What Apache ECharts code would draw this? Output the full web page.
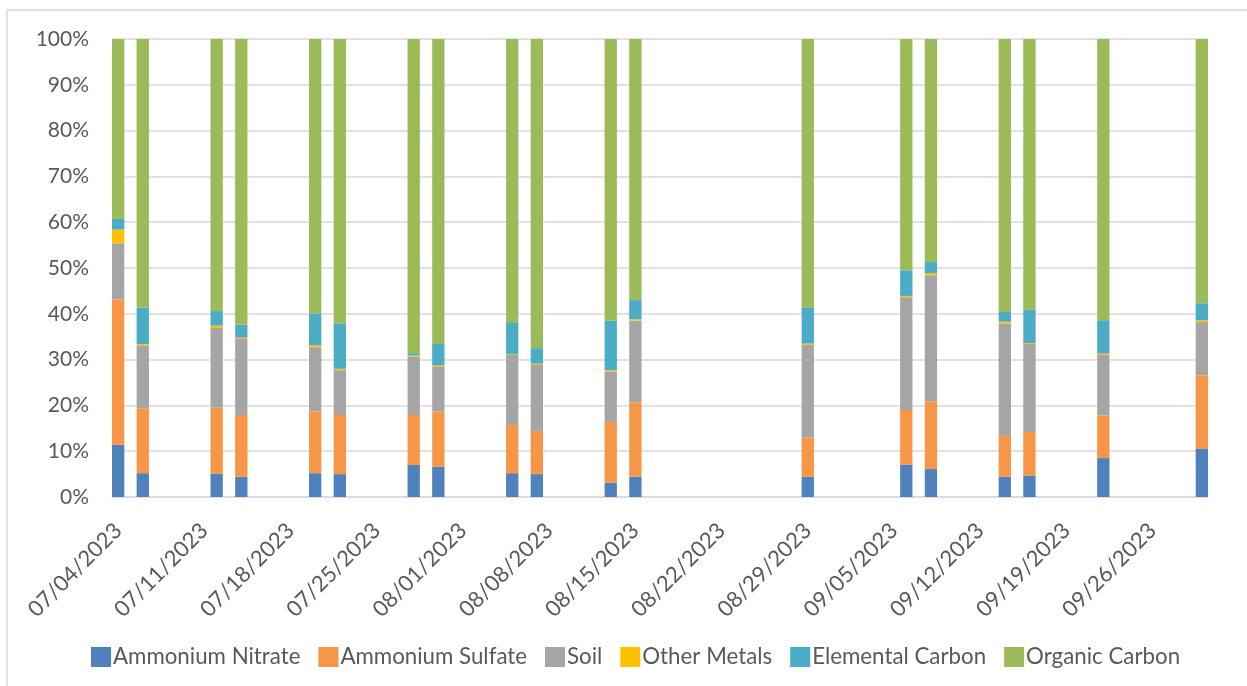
<!DOCTYPE html>
<html>
	<head>
		<meta charset="utf-8">
		<title>PM2.5 composition</title>
		<script src="https://cdn.jsdelivr.net/npm/echarts@6/dist/echarts.min.js"></script>
		<style>
			html, body { margin: 0; padding: 0; background: #fff; }
			#chart { width: 1247px; height: 686px; }
		</style>
	</head>
	<body>
		<div id="chart"></div>
		<script type="text/javascript">
			// sample days (the axis is a date axis running 07/04 .. 09/30)
			var sampleDates = ['07/04/2023','07/06/2023','07/12/2023','07/14/2023','07/20/2023','07/22/2023',
				'07/28/2023','07/30/2023','08/05/2023','08/07/2023','08/13/2023','08/15/2023','08/29/2023',
				'09/06/2023','09/08/2023','09/14/2023','09/16/2023','09/22/2023','09/30/2023'];

			// percent of total for each sample
			var ammoniumNitrate = [11.4, 5.2, 5.1, 4.4, 5.2, 5.0, 7.0, 6.6, 5.2, 5.0, 3.1, 4.4, 4.4, 7.1, 6.1, 4.4, 4.7, 8.5, 10.6];
			var ammoniumSulfate = [31.8, 14.2, 14.4, 13.5, 13.5, 12.9, 10.9, 12.1, 10.5, 9.4, 13.3, 16.3, 8.6, 11.9, 14.8, 8.9, 9.5, 9.3, 16.0];
			var soil            = [12.2, 13.7, 17.4, 16.6, 14.0, 9.8, 12.7, 9.7, 15.3, 14.4, 11.0, 17.8, 20.2, 24.6, 27.5, 24.6, 19.2, 13.2, 11.6];
			var otherMetals     = [3.0, 0.3, 0.5, 0.3, 0.4, 0.3, 0.3, 0.3, 0.2, 0.3, 0.3, 0.3, 0.3, 0.3, 0.5, 0.4, 0.2, 0.3, 0.4];
			var elementalCarbon = [2.3, 7.9, 3.2, 2.8, 7.0, 9.9, 0.5, 4.7, 6.8, 3.4, 10.8, 4.2, 7.9, 5.6, 2.4, 2.1, 7.3, 7.3, 3.7];
			var organicCarbon   = [39.3, 58.7, 59.4, 62.4, 59.9, 62.1, 68.6, 66.6, 62.0, 67.5, 61.5, 57.0, 58.6, 50.5, 48.7, 59.6, 59.1, 61.4, 57.7];

			var yTicks = [0, 10, 20, 30, 40, 50, 60, 70, 80, 90, 100];

			var seriesNames = ['Ammonium Nitrate','Ammonium Sulfate','Soil','Other Metals','Elemental Carbon','Organic Carbon'];
			var seriesData = [ammoniumNitrate, ammoniumSulfate, soil, otherMetals, elementalCarbon, organicCarbon];
			var colors = ['#4F81BD','#F79646','#A5A5A5','#FFC000','#4BACC6','#9BBB59'];

			// one category per calendar day
			function pad(n){ return (n < 10 ? '0' : '') + n; }
			var days = [];
			var start = Date.UTC(2023, 6, 4), end = Date.UTC(2023, 8, 30);
			for (var t = start; t <= end; t += 86400000) {
				var d = new Date(t);
				days.push(pad(d.getUTCMonth() + 1) + '/' + pad(d.getUTCDate()) + '/' + d.getUTCFullYear());
			}

			function spread(vals) {
				var out = days.map(function(){ return '-'; });
				sampleDates.forEach(function(s, i){ out[days.indexOf(s)] = vals[i]; });
				return out;
			}

			var font = 'Lato';
			var txt = '#595959';

			var chart = echarts.init(document.getElementById('chart'));
			var option = {
				animation: false,
				color: colors,
				graphic: [{
					type: 'rect',
					shape: { x: 7, y: 10, width: 1260, height: 700 },
					style: { fill: 'none', stroke: '#d9d9d9', lineWidth: 1.5 },
					silent: true
				}],
				grid: { left: 112, right: 39, top: 39, bottom: 189 },
				legend: {
					top: 641,
					left: 86,
					icon: 'rect',
					itemWidth: 20,
					itemHeight: 20,
					itemGap: 18,
					textStyle: { fontFamily: font, fontSize: 22.3, color: txt, padding: [0, 0, 0, -3] },
					data: seriesNames
				},
				xAxis: {
					type: 'category',
					data: days,
					boundaryGap: true,
					axisLine: { lineStyle: { color: '#d9d9d9', width: 1.5 } },
					axisTick: { interval: 6, length: 6, lineStyle: { color: '#d9d9d9', width: 1.5 } },
					axisLabel: { interval: 6, rotate: 45, margin: 30, fontFamily: font, fontSize: 22, color: txt }
				},
				yAxis: {
					type: 'value',
					min: yTicks[0],
					max: yTicks[yTicks.length - 1],
					interval: yTicks[1] - yTicks[0],
					axisLine: { show: false },
					axisTick: { show: false },
					splitLine: { lineStyle: { color: '#d9d9d9', width: 1.5 } },
					axisLabel: { formatter: '{value}%', margin: 23, fontFamily: font, fontSize: 21, color: txt }
				},
				series: seriesNames.map(function(name, i){
					return {
						name: name,
						type: 'bar',
						stack: 'total',
						barCategoryGap: '0%',
						data: spread(seriesData[i])
					};
				})
			};
			chart.setOption(option);
		</script>
	</body>
</html>
